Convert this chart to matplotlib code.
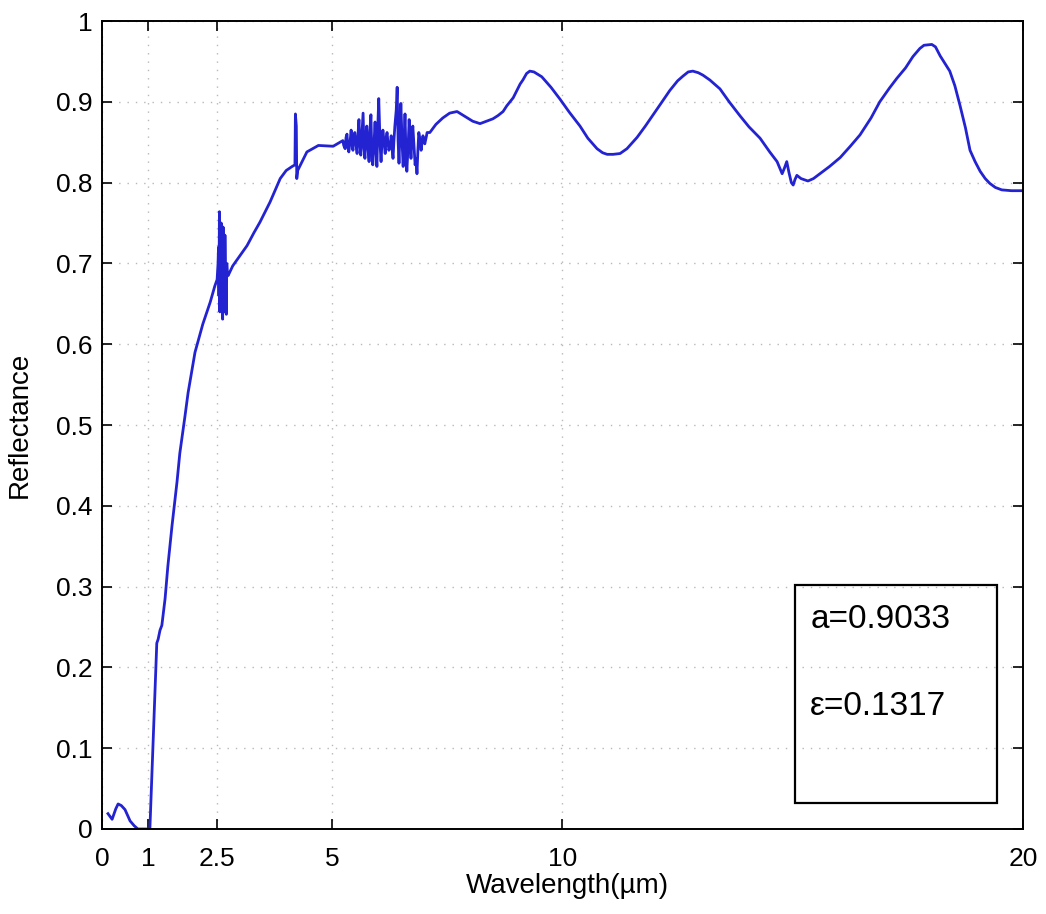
import numpy as np
import matplotlib.pyplot as plt
import matplotlib.patches as patches

plt.rcParams['font.family'] = ['Liberation Sans', 'DejaVu Sans']

# 光譜反射率資料 (波長 um, 反射率)
wl_low = [0.13, 0.22, 0.30, 0.35, 0.42, 0.50, 0.61, 0.70, 0.78, 0.90, 1.04]
r_low = [0.019, 0.012, 0.025, 0.031, 0.029, 0.024, 0.010, 0.004, 0.0, 0.0, 0.0]

wl_rise = [1.19, 1.22, 1.26, 1.30, 1.37, 1.43, 1.52, 1.63, 1.69, 1.80, 1.87,
           2.02, 2.19, 2.35, 2.45, 2.50]
r_rise = [0.230, 0.235, 0.246, 0.252, 0.285, 0.325, 0.375, 0.430, 0.465, 0.510,
          0.540, 0.590, 0.625, 0.652, 0.672, 0.680]

# 2.5um 附近的吸收雜訊
wl_n1 = [2.52, 2.53, 2.54, 2.55, 2.56, 2.57, 2.58, 2.59, 2.60, 2.61, 2.62,
         2.63, 2.64, 2.65, 2.66, 2.67, 2.68, 2.69, 2.70, 2.71, 2.72, 2.74]
r_n1 = [0.700, 0.720, 0.660, 0.764, 0.640, 0.740, 0.700, 0.750, 0.660, 0.730,
        0.631, 0.745, 0.680, 0.720, 0.640, 0.735, 0.690, 0.650, 0.637, 0.700,
        0.690, 0.685]

wl_mid = [2.84, 3.00, 3.15, 3.30, 3.43, 3.65, 3.87, 4.00, 4.13, 4.19, 4.20,
          4.22, 4.23, 4.25, 4.45, 4.70, 5.02]
r_mid = [0.697, 0.710, 0.722, 0.738, 0.751, 0.776, 0.805, 0.815, 0.820, 0.822,
         0.885, 0.870, 0.805, 0.815, 0.838, 0.846, 0.845]

# 5~7um 的雜訊區
wl_n2 = [5.23, 5.25, 5.28, 5.30, 5.32, 5.34, 5.36, 5.39, 5.41, 5.43, 5.45,
         5.47, 5.49, 5.52, 5.54, 5.56, 5.58, 5.60, 5.62, 5.65, 5.67, 5.69,
         5.71, 5.73, 5.75, 5.78, 5.80, 5.82, 5.84, 5.86, 5.88, 5.91, 5.93,
         5.95, 5.97, 5.99, 6.01, 6.04, 6.06, 6.08, 6.10, 6.13, 6.15, 6.17,
         6.19, 6.21, 6.23, 6.26, 6.28, 6.30, 6.32, 6.34, 6.36, 6.39, 6.41,
         6.43, 6.45, 6.47, 6.49, 6.52, 6.54, 6.56, 6.58, 6.60, 6.62, 6.65,
         6.67, 6.69, 6.71, 6.73, 6.75, 6.78, 6.80, 6.82, 6.84, 6.86, 6.88,
         6.91, 6.93, 6.95, 6.97, 6.99, 7.01, 7.04, 7.06]
r_n2 = [0.852, 0.846, 0.842, 0.856, 0.860, 0.844, 0.838, 0.852, 0.865, 0.848,
        0.840, 0.858, 0.862, 0.845, 0.836, 0.860, 0.878, 0.850, 0.834, 0.866,
        0.886, 0.842, 0.830, 0.858, 0.870, 0.840, 0.826, 0.866, 0.884, 0.836,
        0.822, 0.852, 0.875, 0.840, 0.820, 0.870, 0.904, 0.846, 0.826, 0.850,
        0.865, 0.848, 0.836, 0.855, 0.862, 0.850, 0.840, 0.846, 0.858, 0.842,
        0.830, 0.852, 0.870, 0.890, 0.918, 0.852, 0.824, 0.862, 0.898, 0.846,
        0.820, 0.850, 0.885, 0.840, 0.814, 0.848, 0.878, 0.852, 0.830, 0.856,
        0.870, 0.840, 0.822, 0.830, 0.811, 0.840, 0.862, 0.852, 0.840, 0.850,
        0.858, 0.852, 0.848, 0.856, 0.862]

wl_high = [7.12, 7.25, 7.40, 7.55, 7.71, 7.85, 7.93, 8.05, 8.21, 8.35, 8.49,
           8.60, 8.71, 8.79, 8.93, 9.08, 9.14, 9.22, 9.29, 9.38, 9.55, 9.75,
           9.95, 10.15, 10.38, 10.55, 10.75, 10.87, 10.97, 11.10, 11.25, 11.40,
           11.62, 11.80, 11.97, 12.15, 12.33, 12.50, 12.62, 12.73, 12.83, 12.95,
           13.05, 13.20, 13.42, 13.62, 13.85, 14.05, 14.29, 14.50, 14.66, 14.77,
           14.82, 14.87, 14.92, 14.97, 15.01, 15.05, 15.09, 15.18, 15.33, 15.45,
           15.59, 15.80, 16.03, 16.25, 16.46, 16.70, 16.89, 17.10, 17.26, 17.45,
           17.61, 17.76, 17.85, 18.02, 18.10, 18.20, 18.30, 18.41, 18.52, 18.63,
           18.75, 18.85, 18.96, 19.07, 19.18, 19.28, 19.40, 19.54, 19.75, 19.98]
r_high = [0.862, 0.872, 0.880, 0.886, 0.888, 0.883, 0.880, 0.876, 0.873, 0.876,
          0.879, 0.883, 0.888, 0.895, 0.905, 0.922, 0.927, 0.935, 0.938, 0.937,
          0.931, 0.918, 0.903, 0.887, 0.870, 0.855, 0.842, 0.837, 0.835, 0.835,
          0.836, 0.842, 0.856, 0.870, 0.884, 0.899, 0.914, 0.926, 0.932, 0.937,
          0.938, 0.936, 0.933, 0.927, 0.916, 0.900, 0.883, 0.869, 0.855, 0.838,
          0.826, 0.811, 0.818, 0.826, 0.812, 0.800, 0.797, 0.804, 0.809, 0.805,
          0.802, 0.805, 0.811, 0.820, 0.831, 0.845, 0.859, 0.880, 0.900, 0.917,
          0.929, 0.942, 0.956, 0.966, 0.970, 0.971, 0.968, 0.957, 0.948, 0.938,
          0.920, 0.896, 0.868, 0.840, 0.826, 0.814, 0.805, 0.799, 0.794, 0.791,
          0.790, 0.790]

x_ticks = [0, 1, 2.5, 5, 10, 20]
x_labels = ['0', '1', '2.5', '5', '10', '20']
y_ticks = [0, 0.1, 0.2, 0.3, 0.4, 0.5, 0.6, 0.7, 0.8, 0.9, 1.0]
y_labels = ['0', '0.1', '0.2', '0.3', '0.4', '0.5', '0.6', '0.7', '0.8', '0.9', '1']

a_val = 0.9033
eps_val = 0.1317

wl = np.concatenate([wl_low, wl_rise, wl_n1, wl_mid, wl_n2, wl_high])
refl = np.concatenate([r_low, r_rise, r_n1, r_mid, r_n2, r_high])

fig = plt.figure(figsize=(10.46, 9.14), dpi=100)
ax = fig.add_axes([0.0975, 0.093, 0.8805, 0.884])

ax.plot(wl, refl, color='#2323d2', linewidth=2.0)

ax.set_xlim(0, 20)
ax.set_ylim(0, 1)
ax.set_xticks(x_ticks)
ax.set_xticklabels(x_labels)
ax.set_yticks(y_ticks)
ax.set_yticklabels(y_labels)

# MATLAB 風格: 刻度向內, 四邊都有, 虛點格線
ax.tick_params(axis='both', direction='in', top=True, right=True,
               length=7, width=1.2, labelsize=19, colors='black')
ax.tick_params(axis='x', pad=13)
ax.tick_params(axis='y', pad=7)
ax.grid(True, linestyle=(0, (1, 5)), color='#b8b8b8', linewidth=1.0)
for sp in ax.spines.values():
    sp.set_linewidth(1.4)

ax.set_xlabel('Wavelength(µm)', fontsize=20)
ax.set_ylabel('Reflectance', fontsize=20)
ax.xaxis.set_label_coords(0.505, -0.054)
ax.yaxis.set_label_coords(-0.075, 0.5)

# 右下角的參數框
box = patches.Rectangle((0.752, 0.032), 0.22, 0.27, transform=ax.transAxes,
                        fill=False, edgecolor='black', linewidth=1.6, zorder=5)
ax.add_patch(box)
ax.text(0.769, 0.259, 'a=%.4f' % a_val, transform=ax.transAxes,
        fontsize=24, va='center', ha='left')
ax.text(0.769, 0.151, 'ε=%.4f' % eps_val, transform=ax.transAxes,
        fontsize=24, va='center', ha='left')

plt.savefig('out.png', dpi=100)
